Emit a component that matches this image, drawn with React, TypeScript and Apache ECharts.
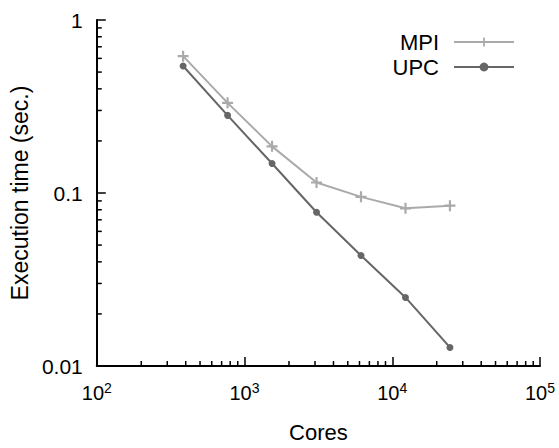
import React, { useEffect, useRef } from "react";
import * as echarts from "echarts";

const cores = [384, 768, 1536, 3072, 6144, 12288, 24576];
const mpiTime = [0.618, 0.332, 0.186, 0.115, 0.095, 0.0816, 0.0845];
const upcTime = [0.542, 0.281, 0.148, 0.0774, 0.0435, 0.0249, 0.0128];
const xDecades = [100, 1000, 10000];
const yDecades = [0.01, 0.1];
const minorSteps = [2, 3, 4, 5, 6, 7, 8, 9];
const X_MIN = 100;
const X_MAX = 100000;
const Y_MIN = 0.01;
const Y_MAX = 1;

const FONT = "'Liberation Sans', Arial, sans-serif";
const MPI_COLOR = "#aaaaaa";
const UPC_COLOR = "#666666";
const PLUS = "path://M4,0H6V4H10V6H6V10H4V6H0V4H4Z";

export default function App() {
  const ref = useRef<HTMLDivElement>(null);
  useEffect(() => {
    if (!ref.current) return;
    document.body.style.margin = "0";
    document.body.style.overflow = "hidden";
    document.documentElement.style.overflow = "hidden";
    const chart = echarts.init(ref.current, null, { renderer: "svg" });
    const xMinor: number[][] = [];
    xDecades.forEach((d) => minorSteps.forEach((s) => xMinor.push([d * s, Y_MIN])));
    const yMinor: number[][] = [];
    yDecades.forEach((d) => minorSteps.forEach((s) => yMinor.push([X_MIN, +(d * s).toPrecision(3)])));

    const tickLine = (x1: number, y1: number, x2: number, y2: number) => ({
      type: "line",
      shape: { x1, y1, x2, y2 },
      style: { stroke: "#000", lineWidth: 1.5 },
    });

    chart.setOption({
      animation: false,
      backgroundColor: "#fff",
      textStyle: { fontFamily: FONT },
      grid: { left: 86, right: 19, top: 20, bottom: 77, containLabel: false },
      legend: {
        orient: "vertical",
        align: "right",
        right: 44,
        top: 31,
        padding: 0,
        itemWidth: 60,
        itemHeight: 11,
        itemGap: 3,
        textStyle: { fontSize: 22, color: "#000", fontFamily: FONT, padding: [0, 10, 0, 0] },
        data: ["MPI", "UPC"],
      },
      xAxis: {
        type: "log",
        logBase: 10,
        min: X_MIN,
        max: X_MAX,
        name: "Cores",
        nameLocation: "middle",
        nameGap: 55,
        nameTextStyle: { fontSize: 22, color: "#000", fontFamily: FONT },
        axisLine: { show: true, lineStyle: { color: "#000", width: 2 } },
        axisTick: { show: true, inside: true, length: 9, lineStyle: { color: "#000", width: 1.5 } },
        splitLine: { show: false },
        axisLabel: {
          margin: 15,
          color: "#000",
          formatter: (v: number) => "{base|10}{sup|" + Math.round(Math.log10(v)) + "}",
          rich: {
            base: { fontSize: 20, fontFamily: FONT, color: "#000" },
            sup: { fontSize: 14, fontFamily: FONT, color: "#000", padding: [0, 0, 9, 0] },
          },
        },
      },
      yAxis: {
        type: "log",
        logBase: 10,
        min: Y_MIN,
        max: Y_MAX,
        name: "Execution time (sec.)",
        nameLocation: "middle",
        nameGap: 47,
        nameTextStyle: { fontSize: 23, color: "#000", fontFamily: FONT },
        axisLine: { show: true, lineStyle: { color: "#000", width: 2 } },
        axisTick: { show: true, inside: true, length: 9, lineStyle: { color: "#000", width: 1.5 } },
        splitLine: { show: false },
        axisLabel: {
          margin: 14,
          fontSize: 21,
          color: "#000",
          fontFamily: FONT,
          formatter: (v: number) => String(+v.toPrecision(3)),
        },
      },
      series: [
        {
          name: "MPI",
          type: "line",
          data: cores.map((c, i) => [c, mpiTime[i]]),
          symbol: PLUS,
          symbolSize: 11,
          showSymbol: true,
          color: MPI_COLOR,
          itemStyle: { color: MPI_COLOR },
          lineStyle: { color: MPI_COLOR, width: 2 },
          z: 3,
        },
        {
          name: "UPC",
          type: "line",
          data: cores.map((c, i) => [c, upcTime[i]]),
          symbol: "circle",
          symbolSize: 7,
          showSymbol: true,
          color: UPC_COLOR,
          itemStyle: { color: UPC_COLOR },
          lineStyle: { color: UPC_COLOR, width: 2 },
          z: 4,
        },
        {
          type: "custom",
          silent: true,
          clip: false,
          data: xMinor,
          renderItem: (params: any, api: any) => {
            const p = api.coord([api.value(0), api.value(1)]);
            return tickLine(p[0], p[1], p[0], p[1] - 5);
          },
        },
        {
          type: "custom",
          silent: true,
          clip: false,
          data: yMinor,
          renderItem: (params: any, api: any) => {
            const p = api.coord([api.value(0), api.value(1)]);
            return tickLine(p[0], p[1], p[0] + 5, p[1]);
          },
        },
      ],
    });
    return () => chart.dispose();
  }, []);
  return <div ref={ref} style={{ width: 559, height: 448, overflow: "hidden" }} />;
}
